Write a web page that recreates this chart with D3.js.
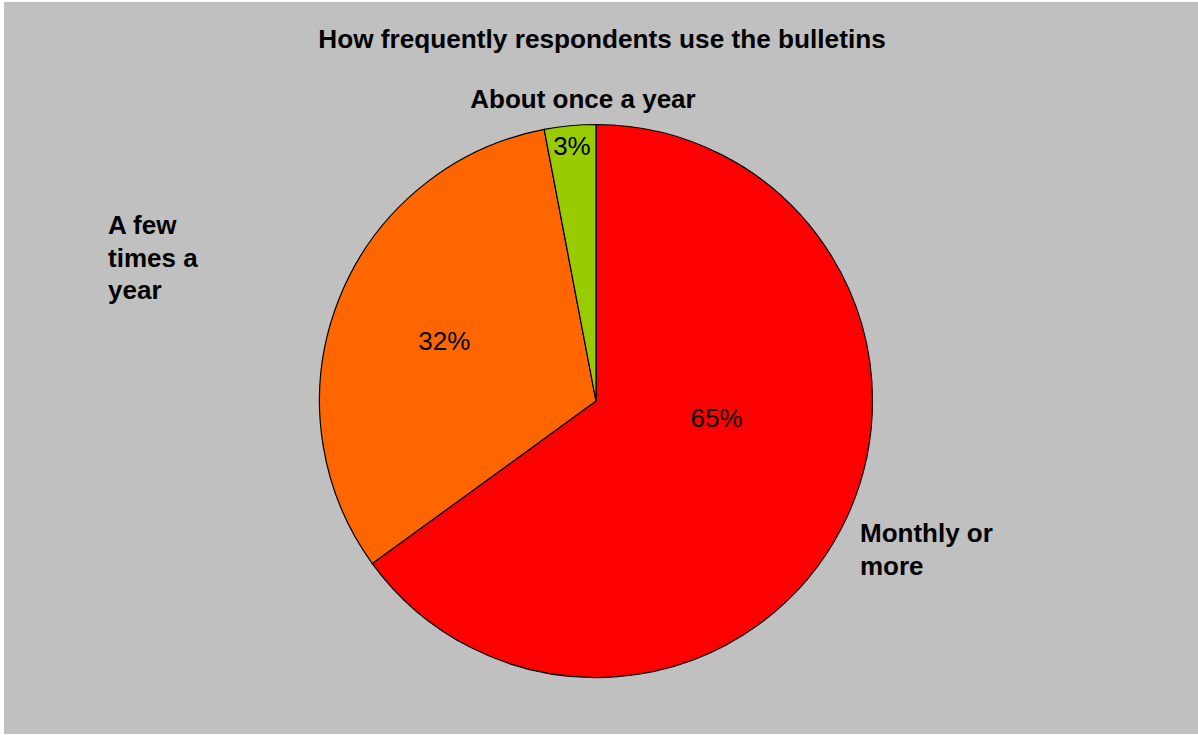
<!DOCTYPE html>
<html>
<head>
<meta charset="utf-8">
<script src="https://cdn.jsdelivr.net/npm/d3@7"></script>
<style>
  html, body { margin: 0; padding: 0; background: #ffffff; }
  svg { display: block; }
  text { font-family: "Liberation Sans", Arial, sans-serif; fill: #000; }
</style>
</head>
<body>
<svg id="chart" width="1198" height="735"></svg>
<script>
// Survey answers: how often respondents use the bulletins
const categories = ["Monthly or more", "A few times a year", "About once a year"];
const shares = [65, 32, 3];
const sliceColors = ["#ff0000", "#ff6600", "#99cc00"];
const titleText = "How frequently respondents use the bulletins";

const W = 1198, H = 735;
const svg = d3.select("#chart");

// chart area
svg.append("rect")
  .attr("x", 4).attr("y", 2)
  .attr("width", W - 4).attr("height", H - 3)
  .attr("fill", "#c0c0c0");

svg.append("text")
  .attr("x", 602).attr("y", 48)
  .attr("text-anchor", "middle")
  .attr("font-size", 26.2).attr("font-weight", "bold")
  .text(titleText);

const cx = 596, cy = 401, R = 276.5;

const pie = d3.pie().sort(null).value(d => d.value);
const data = categories.map((c, i) => ({ name: c, value: shares[i], color: sliceColors[i] }));
const arcs = pie(data);
const arc = d3.arc().innerRadius(0).outerRadius(R);

const g = svg.append("g").attr("transform", `translate(${cx},${cy})`);

g.selectAll("path.slice")
  .data(arcs)
  .join("path")
  .attr("class", "slice")
  .attr("d", arc)
  .attr("fill", d => d.data.color)
  .attr("stroke", "#000")
  .attr("stroke-width", 1.2)
  .attr("stroke-linejoin", "round");

// percentage labels placed at a radius fraction along a label angle
const pctPlacement = [
  { angle: 98, r: 0.44 },
  { angle: null, r: 0.59 },
  { angle: null, r: 0.925 }
];
const pct = d3.format(".0%");
const total = d3.sum(shares);

g.selectAll("text.pct")
  .data(arcs)
  .join("text")
  .attr("class", "pct")
  .attr("text-anchor", "middle")
  .attr("dominant-baseline", "central")
  .attr("font-size", 26)
  .attr("transform", (d, i) => {
    const p = pctPlacement[i];
    const a = p.angle != null ? p.angle * Math.PI / 180 : (d.startAngle + d.endAngle) / 2;
    const rr = R * p.r;
    return `translate(${Math.sin(a) * rr},${-Math.cos(a) * rr})`;
  })
  .text(d => pct(d.data.value / total));

// category labels outside the pie
const catLayout = [
  { x: 860, y: 542, anchor: "start", lines: ["Monthly or", "more"] },
  { x: 108, y: 234, anchor: "start", lines: ["A few", "times a", "year"] },
  { x: 583, y: 108, anchor: "middle", lines: ["About once a year"] }
];

catLayout.forEach(l => {
  const t = svg.append("text")
    .attr("x", l.x).attr("y", l.y)
    .attr("text-anchor", l.anchor)
    .attr("font-size", 26).attr("font-weight", "bold");
  l.lines.forEach((s, j) => {
    t.append("tspan").attr("x", l.x).attr("dy", j === 0 ? 0 : 32.5).text(s);
  });
});
</script>
</body>
</html>
